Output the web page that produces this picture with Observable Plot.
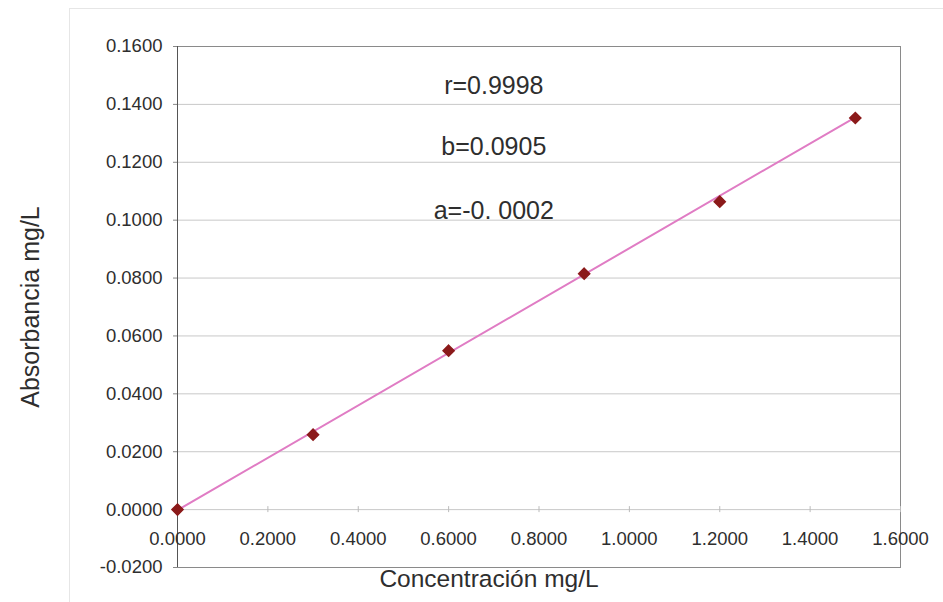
<!DOCTYPE html>
<html>
<head>
<meta charset="utf-8">
<script src="https://cdn.jsdelivr.net/npm/d3@7"></script>
<script src="https://cdn.jsdelivr.net/npm/@observablehq/plot@0.6"></script>
<style>
  html, body { margin: 0; padding: 0; background: #fff; }
  #wrap { position: relative; width: 943px; height: 602px; overflow: hidden; }
  #border { position: absolute; left: 69px; top: 8px; width: 900px; height: 620px; border: 1px solid #e6e6e6; }
  #chart { position: absolute; left: 0; top: 0; }
</style>
</head>
<body>
<div id="wrap"><div id="border"></div><div id="chart"></div></div>
<script>
// Data
const concentracion = [0.0, 0.3, 0.6, 0.9, 1.2, 1.5];
const absorbancia   = [0.0, 0.0259, 0.0549, 0.0815, 0.1064, 0.1353];
const slopeB = 0.0905;
const interceptA = -0.0002;
const xTicks = [0, 0.2, 0.4, 0.6, 0.8, 1.0, 1.2, 1.4, 1.6];
const yTicks = [-0.02, 0, 0.02, 0.04, 0.06, 0.08, 0.10, 0.12, 0.14, 0.16];
const annotationText = ["r=0.9998", "b=0.0905", "a=-0. 0002"];
const annotationX = [0.7, 0.7, 0.7];
const annotationY = [0.1465, 0.1254, 0.1033];
const xLabel = "Concentración mg/L";
const yLabel = "Absorbancia mg/L";

const points = concentracion.map((c, i) => ({x: c, y: absorbancia[i]}));
const fitX = [concentracion[0], concentracion[concentracion.length - 1]];
const fit = fitX.map(x => ({x, y: slopeB * x + interceptA}));
const annotations = annotationText.map((t, i) => ({text: t, x: annotationX[i], y: annotationY[i]}));
const f4 = d3.format(".4f");
const fmt = d => f4(d).replace("\u2212", "-");

const chart = Plot.plot({
  width: 943,
  height: 602,
  marginLeft: 177,
  marginRight: 43,
  marginTop: 46,
  marginBottom: 35,
  style: {fontFamily: "'Liberation Sans', Arial, sans-serif", fontSize: "18px", color: "#2e2e2e", background: "transparent"},
  x: {domain: [0, 1.6]},
  y: {domain: [-0.02, 0.16]},
  marks: [
    Plot.gridY(yTicks, {stroke: "#c8c8c8", strokeOpacity: 1}),
    Plot.frame({stroke: "#8a8a8a"}),
    Plot.ruleX([0], {stroke: "#555"}),
    Plot.ruleX(xTicks, {x: d => d, y1: 0, y2: 0, insetTop: -3, insetBottom: -3, stroke: "#bbb"}),
    Plot.axisY(yTicks, {tickFormat: fmt, tickSize: 4, tickPadding: 11, fontSize: 18.5, stroke: "#888", fill: "#2e2e2e", label: null}),
    Plot.axisX({ticks: [], label: null, tickSize: 0}),
    Plot.text(xTicks, {x: d => d, y: 0, dy: 29, text: d => fmt(d), fontSize: 18.5, fill: "#2e2e2e"}),
    Plot.text([yLabel], {frameAnchor: "left", dx: -147, rotate: -90, textAnchor: "middle", lineAnchor: "middle", fontSize: 25, fill: "#2e2e2e"}),
    Plot.text([xLabel], {frameAnchor: "bottom", dx: -50, dy: 12, lineAnchor: "middle", textAnchor: "middle", fontSize: 24.5, fill: "#2e2e2e"}),
    Plot.text(annotations, {x: "x", y: "y", text: "text", fontSize: 25, fill: "#2e2e2e"}),
    Plot.line(fit, {x: "x", y: "y", stroke: "#e07cc4", strokeWidth: 2}),
    Plot.dot(points, {x: "x", y: "y", symbol: "diamond2", r: 5, fill: "#8b1a1a", stroke: "#8b1a1a"})
  ]
});
document.getElementById("chart").appendChild(chart);
</script>
</body>
</html>
